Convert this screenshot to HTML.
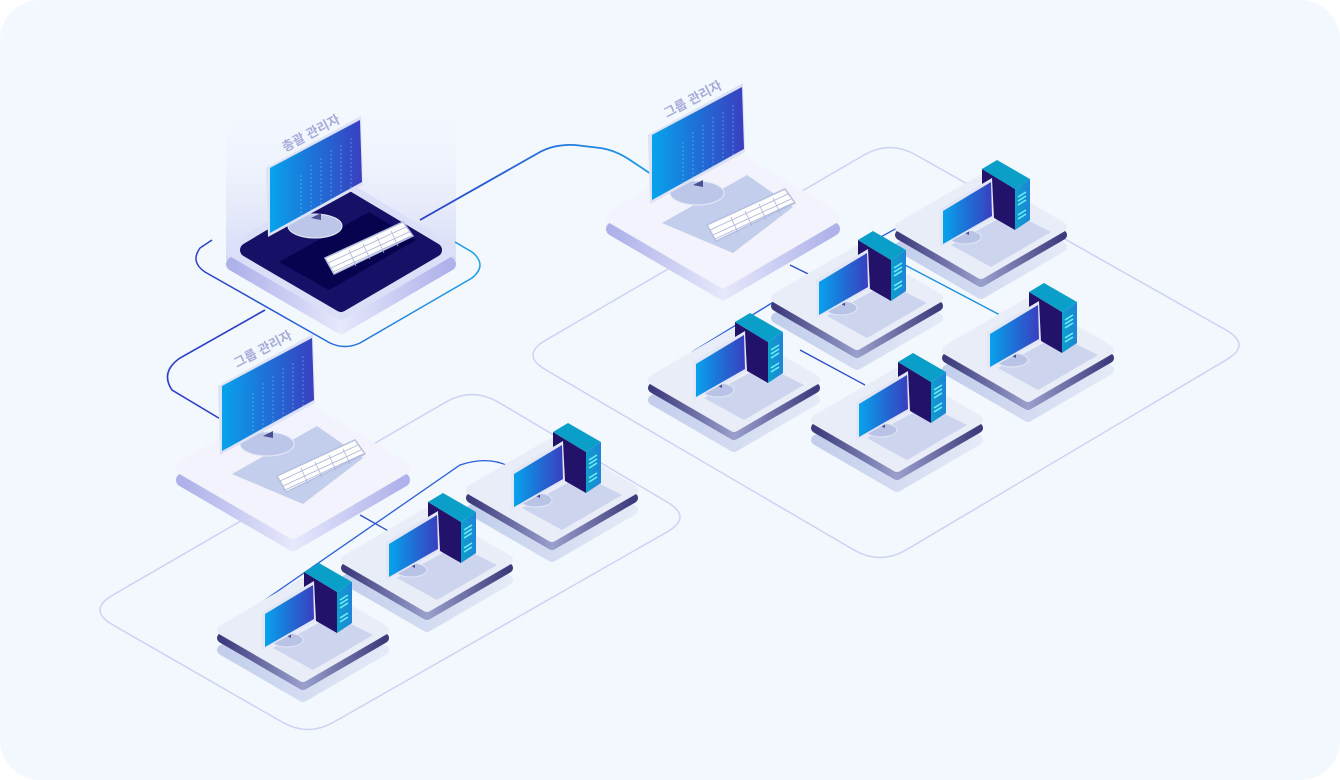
<!DOCTYPE html>
<html><head><meta charset="utf-8">
<style>
html,body{margin:0;padding:0;background:#fff;width:1340px;height:780px;overflow:hidden}
svg{display:block}
text{font-family:"Liberation Sans","Noto Sans CJK KR",sans-serif;font-weight:bold;fill:#a6abd8;font-size:13px}
</style></head><body>
<svg width="1340" height="780" viewBox="0 0 1340 780" xmlns="http://www.w3.org/2000/svg">
<defs>
<linearGradient id="scr" x1="0" y1="0" x2="1" y2="0"><stop offset="0" stop-color="#07a3ec"/><stop offset="0.5" stop-color="#1f6fd6"/><stop offset="1" stop-color="#3a3fc0"/></linearGradient>
<linearGradient id="glow" x1="0" y1="0" x2="0" y2="1"><stop offset="0" stop-color="#f3f7fe" stop-opacity="0"/><stop offset="1" stop-color="#d6dbf6"/></linearGradient>
<linearGradient id="shadow" x1="0" y1="0" x2="1" y2="0"><stop offset="0" stop-color="#aebde4"/><stop offset="1" stop-color="#dfe5f5"/></linearGradient>
<linearGradient id="side" x1="0" y1="0" x2="1" y2="0"><stop offset="0" stop-color="#3d3b7c"/><stop offset="0.5" stop-color="#9aa0cc"/><stop offset="1" stop-color="#3d3b7c"/></linearGradient>
<linearGradient id="mside" x1="0" y1="0" x2="1" y2="0"><stop offset="0" stop-color="#aeb1ea"/><stop offset="0.5" stop-color="#e6e8fb"/><stop offset="1" stop-color="#aeb1ea"/></linearGradient>
<linearGradient id="tower" x1="0" y1="0" x2="1" y2="0"><stop offset="0" stop-color="#0ea0cc"/><stop offset="1" stop-color="#1c84d8"/></linearGradient>
<linearGradient id="link" x1="0" y1="0" x2="1" y2="0"><stop offset="0" stop-color="#2a3fc8"/><stop offset="1" stop-color="#1aa0ea"/></linearGradient>

<g id="ws">
  <path d="M-81,20 L0,-27 L81,20 L0,67 Z" fill="url(#shadow)" stroke="url(#shadow)" stroke-width="10" stroke-linejoin="round" opacity="0.7"/>
  <path d="M-81,8 L0,-39 L81,8 L0,55 Z" fill="url(#side)" stroke="url(#side)" stroke-width="10" stroke-linejoin="round"/>
  <path d="M-81,0 L0,-47 L81,0 L0,47 Z" fill="#e9edf8" stroke="#e9edf8" stroke-width="10" stroke-linejoin="round"/>
  <path d="M-30,18 L30,-15 L70,5 L10,40 Z" fill="#cdd5ee"/>
  <path d="M1,-58 L34,-38 L34,3 L1,-16 Z" fill="#23126a"/>
  <path d="M34,-38 L49,-48 L49,-7 L34,3 Z" fill="url(#tower)"/>
  <path d="M1,-58 L16,-67 L49,-48 L34,-38 Z" fill="#0a9fc8"/>
  <path d="M37,-30 L45,-35 M37,-26 L45,-31 M37,-22 L45,-27 M37,-12 L45,-17 M37,-8 L45,-13" stroke="#6ff0f5" stroke-width="1.6"/>
  <ellipse cx="-16" cy="10" rx="16" ry="7" fill="#b9c3e6" stroke="#e3e8f7" stroke-width="1"/>
  <path d="M-18,5 L-12,2 L-12,8 Z" fill="#4a4f90"/>
  <path d="M-41,-18 L11,-49 L13,-9 L-41,20 Z" fill="#e2e6f6"/>
  <path d="M-38,-16 L10,-45 L11,-11 L-38,17 Z" fill="url(#scr)"/>
</g>

<g id="mgrtop">
  <path d="M-16,8 L62,-28 L72,-14 L-7,24 Z" fill="#ffffff" stroke="#b5bfe0" stroke-width="1.5"/>
  <path d="M-13,13 L65,-23 M-10,18 L68,-18 M-8,22 L70,-14 M8,0 L15,16 M22,-6 L29,9 M36,-13 L43,3 M50,-19 L57,-4" stroke="#aab3d8" stroke-width="0.8"/>
  <ellipse cx="-26" cy="-24" rx="27" ry="12" fill="#bcc6e8" stroke="#e7ebf8"/>
  <path d="M-30,-32 L-20,-37 L-20,-30 Z" fill="#4a4f90"/>
  <path d="M-75,-82 L20,-134 L22,-65 L-73,-13 Z" fill="#dde2f6"/>
  <path d="M-71,-82 L19,-130 L21,-68 L-71,-17 Z" fill="url(#scr)"/>
  <path d="M-40,-75 L-40,-30 M-30,-85 L-30,-35 M-20,-92 L-20,-45 M-10,-100 L-10,-50 M0,-105 L0,-55 M10,-112 L10,-60" stroke="#7fd0ff" stroke-width="0.8" stroke-dasharray="2 2" opacity="0.6"/>
</g>
</defs>

<rect x="0" y="0" width="1340" height="780" rx="40" fill="#f3f7fe"/>

<!-- group outlines -->
<path d="M546,340 L864,155 Q890,140 916,155 L1226,330 Q1252,345 1226,360 L906,550 Q880,565 854,550 L546,370 Q520,355 546,340 Z" fill="none" stroke="#cdd2f4" stroke-width="1.5"/>
<path d="M113,595 L446,402 Q472,387 498,402 L667,502 Q693,517 667,532 L334,722 Q308,737 282,722 L113,625 Q87,610 113,595 Z" fill="none" stroke="#cdd2f4" stroke-width="1.5"/>

<rect x="226" y="100" width="230" height="160" fill="url(#glow)"/>

<!-- connectors -->
<path d="M420,220 L540,152 Q555,144 575,145 L600,148 Q615,150 630,160 L660,180" fill="none" stroke="url(#link)" stroke-width="1.8"/>
<path d="M265,310 L180,358 Q160,372 172,390 L222,420" fill="none" stroke="#2a3fc8" stroke-width="1.6"/>
<path d="M212,240 L200,248 Q190,262 205,272 L330,343 Q345,350 360,343 L472,278 Q488,265 472,252 L455,242" fill="none" stroke="url(#link)" stroke-width="1.5"/>
<path d="M790,265 L865,302" stroke="#2a4fc8" stroke-width="1.3"/>
<path d="M692,352 L855,252 Q900,225 930,212 Q945,208 955,215" fill="none" stroke="#2a5fd8" stroke-width="1.3"/>
<path d="M905,265 L1000,315" stroke="#1a90e0" stroke-width="1.3"/>
<path d="M800,350 L865,385" stroke="#2a4fc8" stroke-width="1.3"/>
<path d="M360,515 L392,533" stroke="#2a4fc8" stroke-width="1.3"/>
<path d="M262,602 L460,465 Q490,455 512,468" fill="none" stroke="#2a5fd8" stroke-width="1.3"/>

<!-- main platform -->
<g transform="translate(341,250)">
  <path d="M-108,14 L0,-50 L108,14 L0,77 Z" fill="url(#mside)" stroke="url(#mside)" stroke-width="14" stroke-linejoin="round"/>
  <path d="M-108,0 L0,-64 L108,0 L0,63 Z" fill="#dcdff8" stroke="#dcdff8" stroke-width="14" stroke-linejoin="round"/>
  <path d="M-94,0 L0,-56 L94,0 L0,55 Z" fill="#171067" stroke="#171067" stroke-width="14" stroke-linejoin="round"/>
  <path d="M-62,12 L28,-38 L75,-10 L-12,40 Z" fill="#07034f"/>
  <use href="#mgrtop"/>
</g>
<text transform="translate(285,152) rotate(-28)">총괄 관리자</text>

<!-- right manager -->
<g transform="translate(723,217)">
  <path d="M-110,12 L0,-54 L110,12 L0,76 Z" fill="url(#mside)" stroke="url(#mside)" stroke-width="14" stroke-linejoin="round"/>
  <path d="M-110,0 L0,-66 L110,0 L0,64 Z" fill="#f2f3fd" stroke="#f2f3fd" stroke-width="14" stroke-linejoin="round"/>
  <path d="M-61,6 L24,-42 L70,-10 L10,36 Z" fill="#c3cdec"/>
  <use href="#mgrtop"/>
</g>
<text transform="translate(667,118) rotate(-28)">그룹 관리자</text>

<use href="#ws" transform="translate(981,227)"/>
<use href="#ws" transform="translate(857,298)"/>
<use href="#ws" transform="translate(1028,350)"/>
<use href="#ws" transform="translate(734,380)"/>
<use href="#ws" transform="translate(897,420)"/>

<!-- left manager -->
<g transform="translate(293,468)">
  <path d="M-110,12 L0,-54 L110,12 L0,76 Z" fill="url(#mside)" stroke="url(#mside)" stroke-width="14" stroke-linejoin="round"/>
  <path d="M-110,0 L0,-66 L110,0 L0,64 Z" fill="#f2f3fd" stroke="#f2f3fd" stroke-width="14" stroke-linejoin="round"/>
  <path d="M-61,6 L24,-42 L70,-10 L10,36 Z" fill="#c3cdec"/>
  <use href="#mgrtop"/>
</g>
<text transform="translate(237,368) rotate(-28)">그룹 관리자</text>

<use href="#ws" transform="translate(552,490)"/>
<use href="#ws" transform="translate(427,560)"/>
<use href="#ws" transform="translate(303,630)"/>
</svg>
</body></html>
